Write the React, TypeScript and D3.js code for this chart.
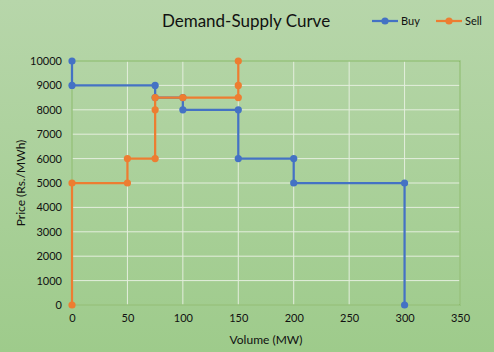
import React, {useEffect, useRef} from "react";
import * as d3 from "d3";

const buyVolume: number[] = [0, 0, 75, 75, 100, 100, 150, 150, 200, 200, 300, 300]
const buyPrice: number[] = [10000, 9000, 9000, 8500, 8500, 8000, 8000, 6000, 6000, 5000, 5000, 0]
const sellVolume: number[] = [0, 0, 50, 50, 75, 75, 75, 100, 150, 150, 150]
const sellPrice: number[] = [0, 5000, 5000, 6000, 6000, 8000, 8500, 8500, 8500, 9000, 10000]
const xTicks: number[] = [0, 50, 100, 150, 200, 250, 300, 350]
const yTicks: number[] = [0, 1000, 2000, 3000, 4000, 5000, 6000, 7000, 8000, 9000, 10000]

const BLUE = "#4472c4"
const ORANGE = "#ed7d31"

const App = () => {
    const svgRef = useRef(null)

    useEffect(() => {
        const svg = d3.select(svgRef.current)
        svg.selectAll("*").remove()

        const x = d3.scaleLinear().domain([0, 350]).range([72, 460])
        const y = d3.scaleLinear().domain([0, 10000]).range([305, 61])

        // background gradient
        const defs = svg.append("defs")
        const grad = defs.append("linearGradient").attr("id", "bg").attr("x1", 0).attr("y1", 0).attr("x2", 0).attr("y2", 1)
        grad.append("stop").attr("offset", "0%").attr("stop-color", "#b7d6aa")
        grad.append("stop").attr("offset", "100%").attr("stop-color", "#9ecb8b")
        svg.append("rect").attr("width", 494).attr("height", 352).attr("fill", "url(#bg)")

        // grid
        const grid = svg.append("g")
        grid.selectAll(".hg").data(yTicks).join("line")
            .attr("x1", x(0)).attr("x2", x(350))
            .attr("y1", d => y(d)).attr("y2", d => y(d))
            .attr("stroke", "#e4eedd").attr("stroke-width", 1)
        grid.selectAll(".vg").data(xTicks).join("line")
            .attr("x1", d => x(d)).attr("x2", d => x(d))
            .attr("y1", y(0)).attr("y2", y(10000))
            .attr("stroke", "#e4eedd").attr("stroke-width", 1)

        // plot border
        svg.append("rect")
            .attr("x", x(0)).attr("y", y(10000))
            .attr("width", x(350) - x(0)).attr("height", y(0) - y(10000))
            .attr("fill", "none").attr("stroke", "#72ad4e").attr("stroke-width", 1)

        // axes
        const xAxis = d3.axisBottom(x).tickValues(xTicks).tickSize(0).tickPadding(9)
        const gx = svg.append("g").attr("transform", `translate(0,${y(0)})`).call(xAxis)
        const yAxis = d3.axisLeft(y).tickValues(yTicks).tickSize(0).tickPadding(10).tickFormat(d3.format("d"))
        const gy = svg.append("g").attr("transform", `translate(${x(0)},0)`).call(yAxis)
        for (const g of [gx, gy]) {
            g.select(".domain").remove()
            g.selectAll("text").attr("font-family", "Lato, 'Open Sans', sans-serif").attr("font-size", 11).attr("fill", "#111")
        }

        const line = d3.line<[number, number]>().x(d => x(d[0])).y(d => y(d[1]))
        const series = [
            {pts: buyVolume.map((v, i) => [v, buyPrice[i]] as [number, number]), color: BLUE},
            {pts: sellVolume.map((v, i) => [v, sellPrice[i]] as [number, number]), color: ORANGE},
        ]
        series.forEach(s => {
            svg.append("path").datum(s.pts).attr("d", line)
                .attr("fill", "none").attr("stroke", s.color).attr("stroke-width", 2.25).attr("stroke-linejoin", "round")
            svg.append("g").selectAll("circle").data(s.pts).join("circle")
                .attr("cx", d => x(d[0])).attr("cy", d => y(d[1])).attr("r", 3.6).attr("fill", s.color)
        })

        // titles
        svg.append("text").attr("x", 246).attr("y", 27).attr("text-anchor", "middle")
            .attr("font-family", "Lato, 'Open Sans', sans-serif").attr("font-size", 17).attr("fill", "#111")
            .text("Demand-Supply Curve")
        svg.append("text").attr("x", 266).attr("y", 344).attr("text-anchor", "middle")
            .attr("font-family", "Lato, 'Open Sans', sans-serif").attr("font-size", 12).attr("fill", "#111")
            .text("Volume (MW)")
        svg.append("text").attr("transform", "translate(25,183) rotate(-90)").attr("text-anchor", "middle")
            .attr("font-family", "Lato, 'Open Sans', sans-serif").attr("font-size", 12).attr("fill", "#111")
            .text("Price (Rs./MWh)")

        // legend
        const legend = [{name: "Buy", color: BLUE, x: 372}, {name: "Sell", color: ORANGE, x: 436}]
        legend.forEach(l => {
            svg.append("line").attr("x1", l.x).attr("x2", l.x + 26).attr("y1", 21).attr("y2", 21)
                .attr("stroke", l.color).attr("stroke-width", 2.25)
            svg.append("circle").attr("cx", l.x + 13).attr("cy", 21).attr("r", 3.6).attr("fill", l.color)
            svg.append("text").attr("x", l.x + 29).attr("y", 25)
                .attr("font-family", "Lato, 'Open Sans', sans-serif").attr("font-size", 11).attr("fill", "#111")
                .text(l.name)
        })
    }, [])

    return (
        <svg ref={svgRef} width={494} height={352} style={{display: "block", position: "absolute", left: 0, top: 0}}/>
    );
};

export default App;
